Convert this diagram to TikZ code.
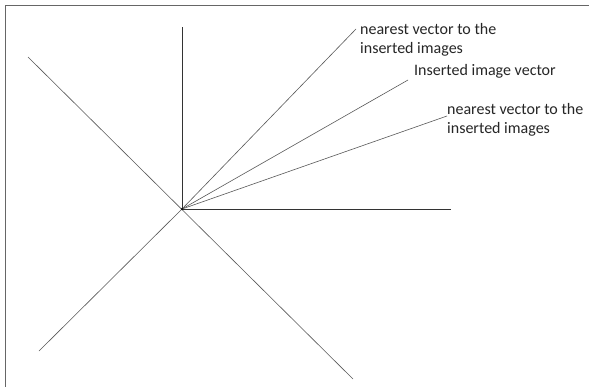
\documentclass[tikz,border=0pt]{standalone}
\usepackage{fontspec}
\setmainfont{Carlito}
\usetikzlibrary{positioning}

\begin{document}
\begin{tikzpicture}[x=1pt,y=-1pt,font=\fontsize{16}{19}\selectfont,
  ray/.style={draw=black!65,line width=.6pt},
  axis/.style={draw=black!80,line width=.6pt},
  lbl/.style={anchor=north west,align=left,inner sep=0pt,text=black!85}]
\useasboundingbox (0,0) rectangle (589,386);
\fill[white] (0,0) rectangle (589,386);
\draw[black!60,line width=.8pt] (5.5,395) -- (5.5,5.5) -- (600,5.5);
% centre and ends
\coordinate (O) at (182,209);
\coordinate (up) at (182,27);
\coordinate (right) at (451,209);
\coordinate (ul) at (28,57);
\coordinate (ll) at (39,351);
\coordinate (lr) at (353,379);
\coordinate (r1) at (356,29);
\coordinate (r2) at (408,80);
\coordinate (r3) at (447,116);
\draw[axis] (O)--(up);
\draw[axis] (O)--(right);
\draw[ray] (ul)--(lr);
\draw[ray] (O)--(ll);
\draw[ray] (O)--(r1);
\draw[ray] (O)--(r2);
\draw[ray] (O)--(r3);
\fill (O) circle (1.2pt);
% labels
\node[lbl] (n1) at (360,23) {nearest vector to the\\inserted images};
\node[lbl] (iv) at (414,64) {Inserted image vector};
\node[lbl] (n2) at (447,103) {nearest vector to the\\inserted images};
\end{tikzpicture}
\end{document}
